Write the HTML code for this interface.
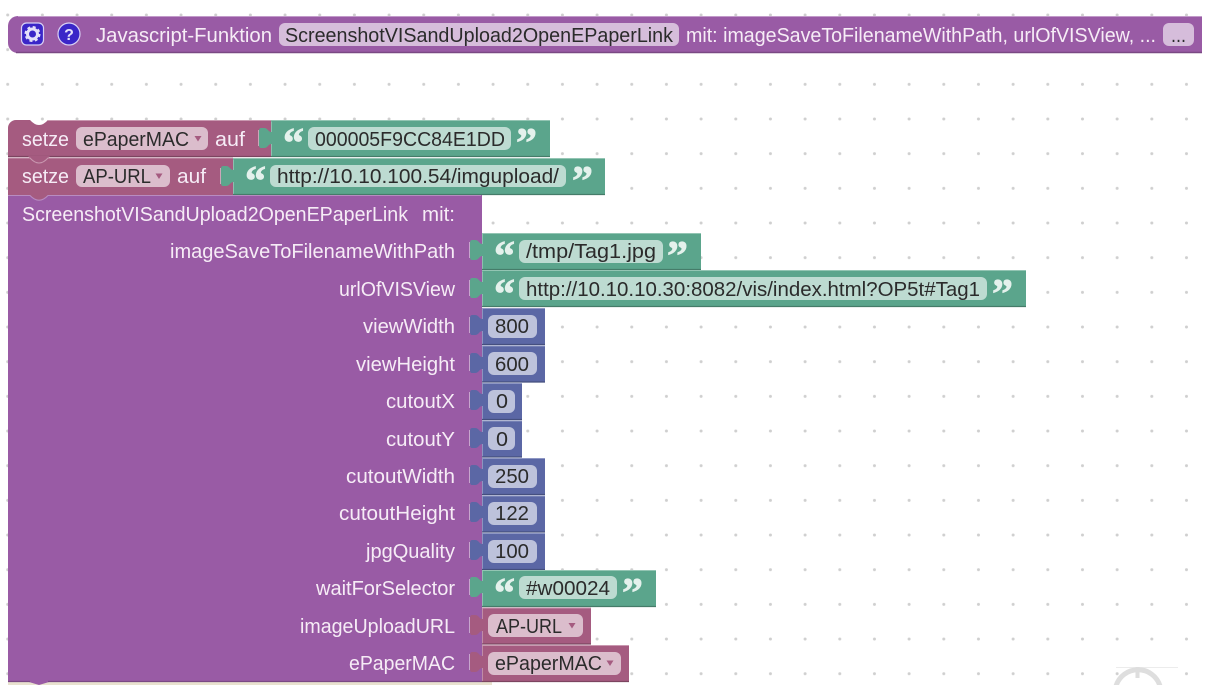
<!DOCTYPE html>
<html><head><meta charset="utf-8"><style>
html,body{margin:0;padding:0;background:#fff;width:1215px;height:685px;overflow:hidden}
svg{display:block}
text{font-family:"Liberation Sans",sans-serif;font-size:20px}
.w{fill:#f6ecf6}.d{fill:#2b2b2b}
.q{font-family:"Liberation Serif",serif;font-weight:bold;font-size:42px;fill:#e4f1ec;stroke:#e4f1ec;stroke-width:.8}
.pf{fill:#d6bddb}.rf{fill:#dbbdcc}.gf{fill:#bddbd1}.bf{fill:#bdc2db}
</style></head><body>
<svg width="1215" height="685" viewBox="0 0 1215 685" xmlns="http://www.w3.org/2000/svg">
<defs>
<pattern id="g" x="5.700" y="13" width="34.67" height="34.67" patternUnits="userSpaceOnUse">
<circle cx="2" cy="2" r="1.5" fill="#cfcfcf"/>
</pattern>
<g id="tab">
<path d="M0.500,5 C-3,5 -3,1 -7,1 H-10 Q-12,1 -12,4 V18 Q-12,21 -10,21 H-7 C-3,21 -3,17 0.500,17 z"/>
<path d="M-12.500,3 V19" fill="none" stroke="#ffffff" stroke-opacity=".45" stroke-width="1"/>
<path d="M0.500,-5.500 V5 M0.500,17 V30.500" fill="none" stroke="#ffffff" stroke-opacity=".3" stroke-width="1"/>
</g>
<path id="ar" d="M0,0 H7 L3.500,5.500 z" fill="#a55b80"/>
</defs>
<rect width="1215" height="685" fill="#fff"/>
<rect x="5.700" y="13" width="1190" height="672" fill="url(#g)"/>

<!-- trash hint -->
<path d="M1116,667.500H1178" stroke="#ececec" stroke-width="1"/>
<path d="M1137.500,667V678" stroke="#dedede" stroke-width="4"/>
<path d="M1116,686 A23,23 0 0 1 1160,686" fill="none" stroke="#dedede" stroke-width="5"/>

<!-- bottom strip -->
<rect x="8" y="680" width="484" height="5" fill="#e8e2cf"/>

<!-- top definition block -->
<path d="M18,16H1202V53H18a10,10 0 0 1 -10,-10V26a10,10 0 0 1 10,-10z" fill="#995ba5"/>
<path d="M18,16.500H1202" stroke="#c29bca" stroke-width="1"/>
<path d="M16,52.500H1202" stroke="#7a4984" stroke-width="1.4"/>
<rect x="21.500" y="23" width="22" height="22" rx="5" fill="#3a26c8" stroke="#d8d0f5" stroke-width="1.2"/>
<circle cx="32.500" cy="34" r="5" fill="none" stroke="#e4e0fa" stroke-width="3"/>
<circle cx="32.500" cy="34" r="7" fill="none" stroke="#e4e0fa" stroke-width="2" stroke-dasharray="3 2.500"/>
<circle cx="69" cy="34" r="11" fill="#3a26c8" stroke="#d8d0f5" stroke-width="1.2"/>
<text x="69" y="40" text-anchor="middle" style="font-size:16px;font-weight:bold" fill="#e4e0fa">?</text>
<text class="w" x="96" y="42" textLength="176" lengthAdjust="spacingAndGlyphs">Javascript-Funktion</text>
<rect class="pf" x="279" y="23" width="400" height="23" rx="6"/>
<text class="d" x="285" y="42" textLength="388" lengthAdjust="spacingAndGlyphs">ScreenshotVISandUpload2OpenEPaperLink</text>
<text class="w" x="686" y="42" textLength="470" lengthAdjust="spacingAndGlyphs">mit: imageSaveToFilenameWithPath, urlOfVISView, ...</text>
<rect class="pf" x="1163" y="23" width="31" height="23" rx="6"/>
<text class="d" x="1171" y="42" textLength="15" lengthAdjust="spacingAndGlyphs">...</text>

<!-- setze 1 -->
<path d="M16,120H30Q39,130 48,120H271V157H8V128a8,8 0 0 1 8,-8z" fill="#a55b80"/>
<path d="M48,120.500H271" stroke="#c998b0" stroke-width="1"/>
<path d="M8,156.500H271" stroke="#7c4560" stroke-width="1.2"/>
<text class="w" x="22" y="146" textLength="47" lengthAdjust="spacingAndGlyphs">setze</text>
<rect class="rf" x="76" y="127" width="132" height="23" rx="6"/>
<text class="d" x="83" y="146" textLength="106" lengthAdjust="spacingAndGlyphs">ePaperMAC</text>
<use href="#ar" x="194.500" y="136"/>
<text class="w" x="215" y="146" textLength="30" lengthAdjust="spacingAndGlyphs">auf</text>
<!-- green 1 -->
<rect x="271" y="120" width="279" height="37" fill="#5ba58c"/>
<use href="#tab" x="271" y="127" fill="#5ba58c"/>
<path d="M271,120.500H550" stroke="#93c5b3" stroke-width="1"/>
<path d="M271,156.500H550" stroke="#457c69" stroke-width="1.2"/>
<text class="q" x="283" y="157">“</text>
<rect class="gf" x="308" y="127" width="203" height="23" rx="6"/>
<text class="d" x="315" y="146" textLength="190" lengthAdjust="spacingAndGlyphs">000005F9CC84E1DD</text>
<text class="q" x="516" y="157">”</text>

<!-- setze 2 -->
<path d="M8,158H30Q39,168 48,158H233V195H8z" fill="#a55b80"/>
<path d="M28,156Q39,170 50,156z" fill="#a55b80"/>
<path d="M8,158H30Q39,168 48,158H233" fill="none" stroke="#c998b0" stroke-width="1"/>
<text class="w" x="22" y="183" textLength="47" lengthAdjust="spacingAndGlyphs">setze</text>
<rect class="rf" x="76" y="165" width="94" height="22" rx="6"/>
<text class="d" x="83" y="183" textLength="68" lengthAdjust="spacingAndGlyphs">AP-URL</text>
<use href="#ar" x="155.500" y="173.500"/>
<text class="w" x="177" y="183" textLength="29" lengthAdjust="spacingAndGlyphs">auf</text>
<!-- green 2 -->
<rect x="233" y="158" width="372" height="37" fill="#5ba58c"/>
<use href="#tab" x="233" y="165" fill="#5ba58c"/>
<path d="M233,158.500H605" stroke="#93c5b3" stroke-width="1"/>
<path d="M233,194.500H605" stroke="#457c69" stroke-width="1.2"/>
<text class="q" x="245" y="195">“</text>
<rect class="gf" x="270" y="165" width="296" height="22" rx="6"/>
<text class="d" x="277" y="183" textLength="282" lengthAdjust="spacingAndGlyphs">http://10.10.100.54/imgupload/</text>
<text class="q" x="572" y="195">”</text>

<!-- main purple -->
<path d="M8,195H30Q39,205 48,195H482V682H49L39,685L29,682H8z" fill="#995ba5"/>
<path d="M28,193Q39,207 50,193z" fill="#a55b80"/>
<path d="M8,195.500H30Q39,205 48,195.500H481" fill="none" stroke="#b88cc1" stroke-width="1"/>
<path d="M8,681.500H30M48,681.500H482" stroke="#7a4984" stroke-width="1.2"/>
<text class="w" x="22" y="221" textLength="386" lengthAdjust="spacingAndGlyphs">ScreenshotVISandUpload2OpenEPaperLink</text>
<text class="w" x="422" y="221" textLength="33" lengthAdjust="spacingAndGlyphs">mit:</text>
<g class="w">
<text x="170" y="258" textLength="285" lengthAdjust="spacingAndGlyphs">imageSaveToFilenameWithPath</text>
<text x="339" y="296" textLength="116" lengthAdjust="spacingAndGlyphs">urlOfVISView</text>
<text x="363" y="333" textLength="92" lengthAdjust="spacingAndGlyphs">viewWidth</text>
<text x="356" y="371" textLength="99" lengthAdjust="spacingAndGlyphs">viewHeight</text>
<text x="386" y="408" textLength="69" lengthAdjust="spacingAndGlyphs">cutoutX</text>
<text x="386" y="446" textLength="69" lengthAdjust="spacingAndGlyphs">cutoutY</text>
<text x="346" y="483" textLength="109" lengthAdjust="spacingAndGlyphs">cutoutWidth</text>
<text x="339" y="520" textLength="116" lengthAdjust="spacingAndGlyphs">cutoutHeight</text>
<text x="366" y="558" textLength="89" lengthAdjust="spacingAndGlyphs">jpgQuality</text>
<text x="316" y="595" textLength="139" lengthAdjust="spacingAndGlyphs">waitForSelector</text>
<text x="300" y="633" textLength="155" lengthAdjust="spacingAndGlyphs">imageUploadURL</text>
<text x="349" y="670" textLength="106" lengthAdjust="spacingAndGlyphs">ePaperMAC</text>
</g>

<!-- value: green rows -->
<rect x="482" y="233" width="219" height="37" fill="#5ba58c"/>
<use href="#tab" x="482" y="239" fill="#5ba58c"/>
<path d="M482,233.500H701" stroke="#93c5b3"/><path d="M482,269.500H701" stroke="#457c69" stroke-width="1.2"/>
<text class="q" x="494" y="270">“</text>
<rect class="gf" x="519" y="240" width="144" height="23" rx="6"/>
<text class="d" x="526" y="258" textLength="130" lengthAdjust="spacingAndGlyphs">/tmp/Tag1.jpg</text>
<text class="q" x="667" y="270">”</text>

<rect x="482" y="270" width="544" height="37" fill="#5ba58c"/>
<use href="#tab" x="482" y="277" fill="#5ba58c"/>
<path d="M482,270.500H1026" stroke="#93c5b3"/><path d="M482,306.500H1026" stroke="#457c69" stroke-width="1.2"/>
<text class="q" x="494" y="308">“</text>
<rect class="gf" x="519" y="277" width="468" height="23" rx="6"/>
<text class="d" x="526" y="296" textLength="454" lengthAdjust="spacingAndGlyphs">http://10.10.10.30:8082/vis/index.html?OP5t#Tag1</text>
<text class="q" x="992" y="308">”</text>

<!-- numbers -->
<g>
<rect x="482" y="308" width="63" height="37" fill="#5b67a5"/>
<use href="#tab" x="482" y="314" fill="#5b67a5"/>
<path d="M482,308.500H545" stroke="#8e97c4"/><path d="M482,344.500H545" stroke="#454f7e" stroke-width="1.2"/>
<rect class="bf" x="488" y="315" width="49" height="23" rx="6"/>
<text class="d" x="495" y="333" textLength="34" lengthAdjust="spacingAndGlyphs">800</text>

<rect x="482" y="345.500" width="63" height="37" fill="#5b67a5"/>
<use href="#tab" x="482" y="352" fill="#5b67a5"/>
<path d="M482,346H545" stroke="#8e97c4"/><path d="M482,382H545" stroke="#454f7e" stroke-width="1.2"/>
<rect class="bf" x="488" y="352" width="49" height="23" rx="6"/>
<text class="d" x="495" y="371" textLength="34" lengthAdjust="spacingAndGlyphs">600</text>

<rect x="482" y="383" width="40" height="37" fill="#5b67a5"/>
<use href="#tab" x="482" y="389" fill="#5b67a5"/>
<path d="M482,383.500H522" stroke="#8e97c4"/><path d="M482,419.500H522" stroke="#454f7e" stroke-width="1.2"/>
<rect class="bf" x="488" y="390" width="27" height="23" rx="6"/>
<text class="d" x="496" y="408" textLength="12" lengthAdjust="spacingAndGlyphs">0</text>

<rect x="482" y="420.500" width="40" height="37" fill="#5b67a5"/>
<use href="#tab" x="482" y="427" fill="#5b67a5"/>
<path d="M482,421H522" stroke="#8e97c4"/><path d="M482,457H522" stroke="#454f7e" stroke-width="1.2"/>
<rect class="bf" x="488" y="427" width="27" height="23" rx="6"/>
<text class="d" x="496" y="446" textLength="12" lengthAdjust="spacingAndGlyphs">0</text>

<rect x="482" y="458" width="63" height="37" fill="#5b67a5"/>
<use href="#tab" x="482" y="464" fill="#5b67a5"/>
<path d="M482,458.500H545" stroke="#8e97c4"/><path d="M482,494.500H545" stroke="#454f7e" stroke-width="1.2"/>
<rect class="bf" x="488" y="465" width="49" height="23" rx="6"/>
<text class="d" x="495" y="483" textLength="34" lengthAdjust="spacingAndGlyphs">250</text>

<rect x="482" y="495.500" width="63" height="37" fill="#5b67a5"/>
<use href="#tab" x="482" y="501" fill="#5b67a5"/>
<path d="M482,496H545" stroke="#8e97c4"/><path d="M482,532H545" stroke="#454f7e" stroke-width="1.2"/>
<rect class="bf" x="488" y="502" width="49" height="23" rx="6"/>
<text class="d" x="495" y="520" textLength="34" lengthAdjust="spacingAndGlyphs">122</text>

<rect x="482" y="533" width="63" height="37" fill="#5b67a5"/>
<use href="#tab" x="482" y="539" fill="#5b67a5"/>
<path d="M482,533.500H545" stroke="#8e97c4"/><path d="M482,569.500H545" stroke="#454f7e" stroke-width="1.2"/>
<rect class="bf" x="488" y="540" width="49" height="23" rx="6"/>
<text class="d" x="495" y="558" textLength="34" lengthAdjust="spacingAndGlyphs">100</text>
</g>

<!-- #w00024 -->
<rect x="482" y="570" width="174" height="37" fill="#5ba58c"/>
<use href="#tab" x="482" y="576" fill="#5ba58c"/>
<path d="M482,570.500H656" stroke="#93c5b3"/><path d="M482,606.500H656" stroke="#457c69" stroke-width="1.2"/>
<text class="q" x="494" y="607">“</text>
<rect class="gf" x="519" y="576" width="98" height="23" rx="6"/>
<text class="d" x="526" y="595" textLength="84" lengthAdjust="spacingAndGlyphs">#w00024</text>
<text class="q" x="622" y="607">”</text>

<!-- variables -->
<rect x="482" y="607.500" width="109" height="37" fill="#a55b80"/>
<use href="#tab" x="482" y="614" fill="#a55b80"/>
<path d="M482,608H591" stroke="#c998b0"/><path d="M482,644H591" stroke="#7c4560" stroke-width="1.2"/>
<rect class="rf" x="488" y="614" width="95" height="23" rx="6"/>
<text class="d" x="496" y="633" textLength="66" lengthAdjust="spacingAndGlyphs">AP-URL</text>
<use href="#ar" x="568.500" y="623"/>

<rect x="482" y="645" width="147" height="37" fill="#a55b80"/>
<use href="#tab" x="482" y="651" fill="#a55b80"/>
<path d="M482,645.500H629" stroke="#c998b0"/><path d="M482,681.500H629" stroke="#7c4560" stroke-width="1.2"/>
<rect class="rf" x="488" y="652" width="133" height="23" rx="6"/>
<text class="d" x="495" y="670" textLength="107" lengthAdjust="spacingAndGlyphs">ePaperMAC</text>
<use href="#ar" x="606.500" y="660.500"/>
</svg>
</body></html>
